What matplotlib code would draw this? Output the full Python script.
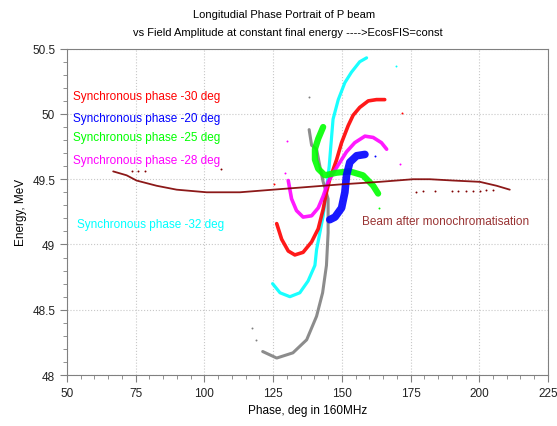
import matplotlib
matplotlib.use("Agg")
import matplotlib.pyplot as plt
from matplotlib.ticker import MultipleLocator, FormatStrFormatter

# phase (deg), energy (MeV)
gray_x = [121.2, 126.3, 132.2, 137.2, 140.8, 143.0, 144.4, 145.0, 145.0, 143.2, 142.0, 140.8, 139.0, 138.1]
gray_y = [48.18, 48.13, 48.17, 48.27, 48.45, 48.63, 48.84, 49.09, 49.35, 49.48, 49.60, 49.73, 49.76, 49.88]

cyan_x = [124.8, 127.5, 131.1, 134.7, 137.7, 140.2, 140.8, 143.2, 144.4, 145.4, 145.9, 146.8, 148.7, 151.1, 153.5, 156.5, 159.0]
cyan_y = [48.70, 48.63, 48.60, 48.63, 48.72, 48.84, 48.96, 49.22, 49.42, 49.60, 49.73, 49.96, 50.11, 50.24, 50.32, 50.40, 50.43]

red_x = [126.3, 128.1, 130.5, 132.9, 135.9, 139.0, 141.4, 143.2, 144.4, 145.6, 148.1, 149.9, 152.3, 154.1, 156.5, 159.6, 162.6, 165.6]
red_y = [49.16, 49.04, 48.95, 48.92, 48.94, 49.02, 49.12, 49.27, 49.40, 49.50, 49.65, 49.78, 49.91, 49.99, 50.05, 50.10, 50.11, 50.11]

magenta_x = [130.5, 131.7, 133.5, 135.9, 139.0, 141.4, 143.2, 145.0, 148.1, 151.7, 154.7, 158.4, 161.4, 164.4, 166.3]
magenta_y = [49.49, 49.35, 49.26, 49.21, 49.22, 49.28, 49.37, 49.48, 49.59, 49.71, 49.78, 49.83, 49.82, 49.78, 49.73]

green_x = [143.2, 141.4, 140.2, 140.2, 141.4, 143.8, 148.1, 152.9, 157.7, 161.4, 163.2]
green_y = [49.90, 49.81, 49.73, 49.65, 49.58, 49.53, 49.55, 49.56, 49.53, 49.45, 49.39]

blue_x = [158.4, 155.4, 152.9, 151.7, 151.1, 149.9, 147.5, 145.6]
blue_y = [49.69, 49.68, 49.63, 49.53, 49.40, 49.28, 49.21, 49.19]

beam_x = [66.8, 71.7, 75.3, 82.6, 89.9, 100.8, 112.9, 125.0, 137.2, 149.3, 163.8, 175.9, 182.0, 190.5, 200.2, 206.3, 211.1]
beam_y = [49.56, 49.53, 49.49, 49.45, 49.42, 49.40, 49.40, 49.42, 49.44, 49.46, 49.48, 49.50, 49.50, 49.49, 49.48, 49.45, 49.42]

# isolated particles
beam_stray_x = [73.5, 75.9, 78.4, 106.2, 177.1, 179.5, 183.8, 189.9, 192.3, 195.3, 197.8, 200.2, 202.6, 205.0]
beam_stray_y = [49.56, 49.56, 49.56, 49.58, 49.40, 49.41, 49.41, 49.41, 49.41, 49.41, 49.41, 49.41, 49.42, 49.42]
gray_stray_x = [117.2, 118.7, 138.0]
gray_stray_y = [48.36, 48.27, 50.13]
cyan_stray_x = [169.6]
cyan_stray_y = [50.37]
red_stray_x = [172.0, 125.3]
red_stray_y = [50.01, 49.46]
magenta_stray_x = [130.1, 129.3, 171.3]
magenta_stray_y = [49.79, 49.55, 49.62]
green_stray_x = [163.6]
green_stray_y = [49.28]
blue_stray_x = [162.0]
blue_stray_y = [49.68]

labels = ["Synchronous phase -30 deg", "Synchronous phase -20 deg", "Synchronous phase -25 deg",
          "Synchronous phase -28 deg", "Synchronous phase -32 deg"]
label_y = [50.14, 49.97, 49.82, 49.65, 49.16]

plt.rcParams['font.family'] = ['Liberation Sans', 'DejaVu Sans']

fig = plt.figure(figsize=(5.57, 4.27), dpi=100)
ax = fig.add_axes([0.1203, 0.1194, 0.8635, 0.7642])

curves = [
    (gray_x, gray_y, gray_stray_x, gray_stray_y, '#808080', 2.2),
    (cyan_x, cyan_y, cyan_stray_x, cyan_stray_y, '#00FFFF', 2.3),
    (red_x, red_y, red_stray_x, red_stray_y, '#FF0000', 2.6),
    (magenta_x, magenta_y, magenta_stray_x, magenta_stray_y, '#FF00FF', 2.6),
    (green_x, green_y, green_stray_x, green_stray_y, '#00FF00', 4.5),
    (blue_x, blue_y, blue_stray_x, blue_stray_y, '#0000FF', 5.5),
    (beam_x, beam_y, beam_stray_x, beam_stray_y, '#800000', 1.3),
]
for xs, ys, sx, sy, c, lw in curves:
    ax.plot(xs, ys, color=c, linewidth=lw, alpha=0.9, solid_capstyle='round', solid_joinstyle='round', zorder=3)
    ax.scatter(sx, sy, s=2, color=c, linewidths=0, zorder=3)

label_colors = ['#FF0000', '#0000FF', '#00FF00', '#FF00FF', '#00FFFF']
for txt, yy, c in zip(labels, label_y, label_colors):
    ax.text(52.3 if c != '#00FFFF' else 53.5, yy, txt, color=c, fontsize=8.5, va='center')
ax.text(157.2, 49.18, "Beam after monochromatisation", color='#993333', fontsize=8.5, va='center')

ax.set_xlim(50, 225)
ax.set_ylim(48, 50.5)
ax.xaxis.set_major_locator(MultipleLocator(25))
ax.xaxis.set_minor_locator(MultipleLocator(5))
ax.yaxis.set_major_locator(MultipleLocator(0.5))
ax.yaxis.set_minor_locator(MultipleLocator(0.1))
ax.yaxis.set_major_formatter(FormatStrFormatter('%g'))
ax.tick_params(which='major', direction='out', length=5, color='#808080', labelsize=8.5, labelcolor='#222222')
ax.tick_params(which='minor', direction='out', length=3, color='#808080')
ax.grid(True, which='major', linestyle=':', color='#c8c8c8', linewidth=0.8)
for s in ax.spines.values():
    s.set_color('#808080')

ax.set_xlabel('Phase, deg in 160MHz', fontsize=8.5)
ax.set_ylabel('Energy, MeV', fontsize=8.5)
fig.text(0.51, 0.965, 'Longitudial Phase Portrait of P beam', ha='center', va='center', fontsize=8)
fig.text(0.517, 0.922, 'vs Field Amplitude at constant final energy ---->EcosFIS=const',
         ha='center', va='center', fontsize=8)

fig.savefig('out.png', dpi=100)
